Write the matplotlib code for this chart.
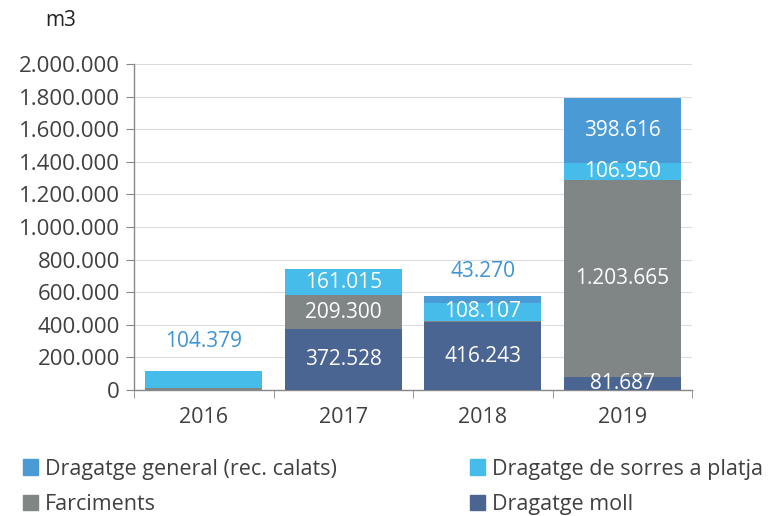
import matplotlib
matplotlib.use("Agg")
import matplotlib.pyplot as plt
import numpy as np
from matplotlib.patches import Patch

plt.rcParams['font.family'] = ['Open Sans', 'DejaVu Sans']

years = ["2016", "2017", "2018", "2019"]
dragatge_moll = [0, 372528, 416243, 81687]
farciments = [10000, 209300, 10000, 1203665]
sorres_platja = [104379, 161015, 108107, 106950]
general = [0, 0, 43270, 398616]

series_names = ["Dragatge moll", "Farciments", "Dragatge de sorres a platja", "Dragatge general (rec. calats)"]
series_vals = [dragatge_moll, farciments, sorres_platja, general]
colors = ["#4b6593", "#808586", "#45bce9", "#4a9ad6"]

inside_labels = [
    (1, 1), (0, 1), (2, 1),
    (0, 2), (2, 2),
    (0, 3), (1, 3), (2, 3), (3, 3),
]
outside_labels = [(2, 0, 300000), (3, 2, 725000)]

def fmt(v):
    return f"{v:,}".replace(",", ".")

fig = plt.figure(figsize=(7.74, 5.16), dpi=100)
ax = fig.add_axes([134 / 774, 1 - 390 / 516, (692 - 134) / 774, (390 - 64) / 516])

x = np.arange(len(years))
bottom = np.zeros(len(years))
for vals, c in zip(series_vals, colors):
    ax.bar(x, vals, bottom=bottom, width=0.84, color=c, edgecolor="none", zorder=3)
    bottom += np.array(vals)

for si, yi in inside_labels:
    base = sum(series_vals[k][yi] for k in range(si))
    v = series_vals[si][yi]
    ax.text(x[yi], base + v / 2, fmt(v), ha="center", va="center",
            color="white", fontsize=15, zorder=5)

for si, yi, ypos in outside_labels:
    v = series_vals[si][yi]
    ax.text(x[yi], ypos, fmt(v), ha="center", va="center",
            color="#3d95d4", fontsize=15, zorder=5)

ax.set_xlim(-0.5, len(years) - 0.5)
ax.set_ylim(0, 2000000)
yt = np.arange(0, 2000001, 200000)
ax.set_yticks(yt)
ax.set_yticklabels([fmt(int(v)) for v in yt], fontsize=16, color="#404040")
ax.set_xticks(x)
ax.set_xticklabels(years, fontsize=15.5, color="#404040")
ax.tick_params(axis="x", length=0, pad=12)
ax.set_xticks(np.arange(-0.5, len(years)), minor=True)
ax.tick_params(axis="x", which="minor", length=6, color="#888888", direction="out")
ax.tick_params(axis="y", length=6, color="#888888", direction="out", pad=4)

ax.grid(axis="y", color="#dcdcdc", linewidth=0.8, zorder=0)
for s in ["top", "right"]:
    ax.spines[s].set_visible(False)
for s in ["left", "bottom"]:
    ax.spines[s].set_color("#888888")
    ax.spines[s].set_linewidth(1.0)

fig.text(45 / 774, 1 - 20 / 516, "m3", ha="left", va="center", fontsize=15, color="#222222")

# matplotlib fills legend column-major; order so rows read: general, sorres / farciments, moll
handles = [Patch(color=colors[3]), Patch(color=colors[1]), Patch(color=colors[2]), Patch(color=colors[0])]
labels = [series_names[3], series_names[1], series_names[2], series_names[0]]
fig.legend(handles, labels, loc="lower left", bbox_to_anchor=(0.005, -0.036), ncol=2,
           frameon=False, fontsize=15.5, handlelength=0.7, handleheight=0.7,
           handletextpad=0.3, columnspacing=6.2, labelspacing=0.68,
           labelcolor="#404040")

fig.savefig("out.png", dpi=100)
